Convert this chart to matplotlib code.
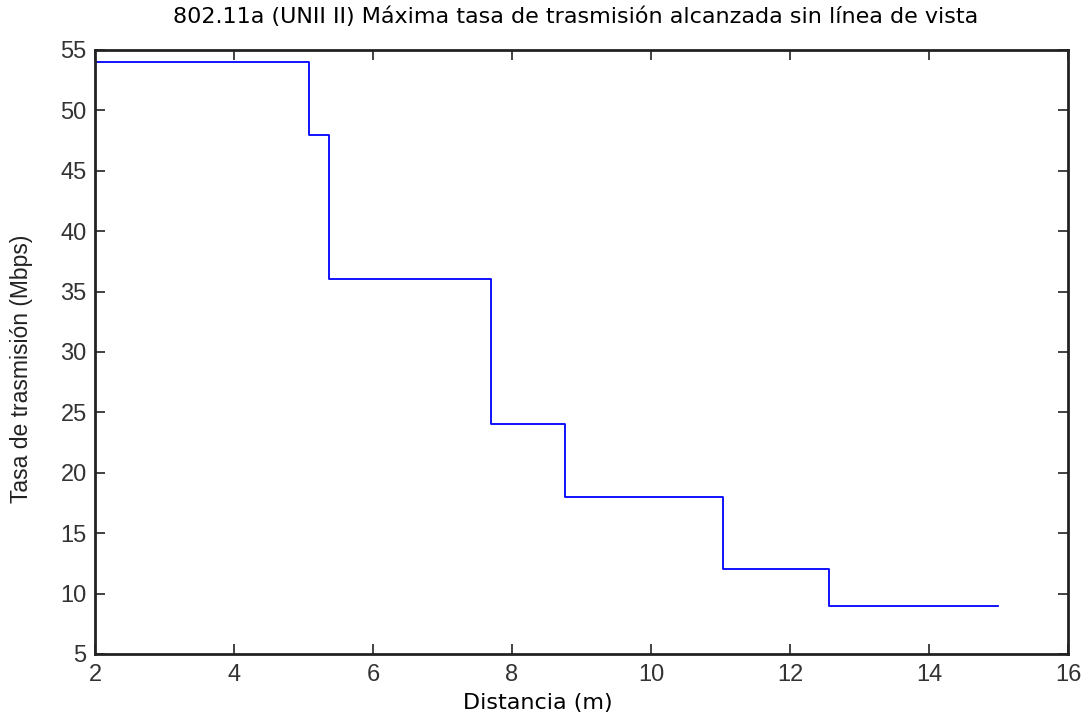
import matplotlib
matplotlib.use("Agg")
import matplotlib.pyplot as plt

# step edges (m) and the rate held from each edge (Mbps)
distancia = [2, 5.08, 5.37, 7.70, 8.76, 11.04, 12.56, 15]
tasa = [54, 48, 36, 24, 18, 12, 9, 9]

x_ticks = [2, 4, 6, 8, 10, 12, 14, 16]
y_ticks = [5, 10, 15, 20, 25, 30, 35, 40, 45, 50, 55]

fig = plt.figure(figsize=(10.89, 7.17), dpi=100)
ax = fig.add_axes([0.0872, 0.0879, 0.8935, 0.8424])

ax.plot(distancia, tasa, drawstyle="steps-post", color="#0000ff", lw=1.3)

ax.set_xlim(2, 16)
ax.set_ylim(5, 55)
ax.set_xticks(x_ticks)
ax.set_yticks(y_ticks)
ax.tick_params(direction="in", top=True, right=True, length=7, width=1.2,
               labelsize=17, color="#222222", labelcolor="#333333")
ax.tick_params(axis="x", pad=7)
ax.tick_params(axis="y", pad=6)
for lab in ax.get_xticklabels() + ax.get_yticklabels():
    lab.set_family("Liberation Sans")
for s in ax.spines.values():
    s.set_linewidth(2)
    s.set_color("#222222")

ax.set_xlabel("Distancia (m)", fontsize=16, va="center")
ax.xaxis.set_label_coords(0.455, -0.081)
ax.set_ylabel("Tasa de trasmisión (Mbps)", fontsize=16.5, family="Liberation Sans",
              va="center", color="#222222")
ax.yaxis.set_label_coords(-0.075, 0.472)

fig.suptitle("802.11a (UNII II) Máxima tasa de trasmisión alcanzada sin línea de vista",
             fontsize=16, x=0.529, y=0.976, va="center")

fig.savefig("out.png", dpi=100)
